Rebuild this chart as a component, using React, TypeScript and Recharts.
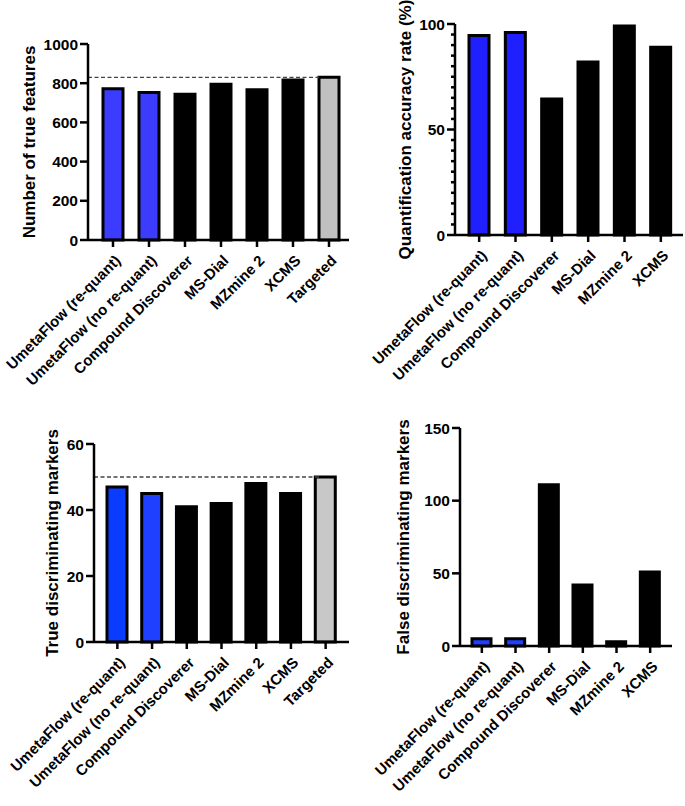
import { BarChart, Bar, XAxis, YAxis, Cell, ReferenceLine, Label } from "recharts";

const FONT = '"Liberation Sans", Arial, sans-serif';

const toolsWithTarget = [
  "UmetaFlow (re-quant)",
  "UmetaFlow (no re-quant)",
  "Compound Discoverer",
  "MS-Dial",
  "MZmine 2",
  "XCMS",
  "Targeted",
];
const toolsNoTarget = [
  "UmetaFlow (re-quant)",
  "UmetaFlow (no re-quant)",
  "Compound Discoverer",
  "MS-Dial",
  "MZmine 2",
  "XCMS",
];

const trueFeatures = [772, 753, 744, 795, 766, 816, 830];
const quantAccuracy = [94.5, 96, 64.5, 82, 99, 89];
const trueMarkers = [47, 45, 41, 42, 48, 45, 50];
const falseMarkers = [5, 5, 111, 42, 3, 51];

const featuresTicks = [0, 200, 400, 600, 800, 1000];
const accuracyTicks = [0, 5, 10, 15, 20, 25, 30, 35, 40, 45, 50, 55, 60, 65, 70, 75, 80, 85, 90, 95, 100];
const trueMarkerTicks = [0, 20, 40, 60];
const falseMarkerTicks = [0, 50, 100, 150];

const featuresTarget = 830;
const markersTarget = 50;

// bar colours (style, kept apart from the values)
const fillsTop = ["#3c3cff", "#3c3cff", "#000", "#000", "#000", "#000", "#c0c0c0"];
const fillsAcc = ["#2020ff", "#2020ff", "#000", "#000", "#000", "#000"];
const fillsBottom = ["#0a3cff", "#2040ff", "#000", "#000", "#000", "#000", "#c8c8c8"];
const fillsFalse = ["#2040ff", "#2040ff", "#000", "#000", "#000", "#000"];

function XTick({ x, y, payload }: any) {
  const ax = x + 1;
  const ay = y + 5;
  return (
    <text
      x={ax}
      y={ay}
      transform={`rotate(-45 ${ax} ${ay})`}
      textAnchor="end"
      dy="0.71em"
      fontSize={15}
      fontWeight={700}
      fontFamily={FONT}
      fill="#000"
    >
      {payload.value}
    </text>
  );
}

function YTick({ x, y, payload, major }: any) {
  const axisX = x + 10; // tickSize 7 + tickMargin 3
  const isMajor = payload.value % major === 0;
  return (
    <g>
      <line
        x1={axisX}
        x2={axisX - (isMajor ? 8 : 4)}
        y1={y}
        y2={y}
        stroke="#000"
        strokeWidth={2.5}
      />
      {isMajor && (
        <text
          x={x}
          y={y}
          dy="0.36em"
          textAnchor="end"
          fontSize={15.5}
          fontWeight={700}
          fontFamily={FONT}
          fill="#000"
        >
          {payload.value}
        </text>
      )}
    </g>
  );
}

interface PanelProps {
  left: number;
  top: number;
  width: number;
  height: number;
  margin: { top: number; right: number; bottom: number; left: number };
  yWidth: number;
  xHeight: number;
  pad: { left: number; right: number };
  cats: string[];
  values: number[];
  fills: string[];
  ticks: number[];
  major: number;
  title: string;
  titleDx: number;
  barSize: number;
  target?: number;
  dashTrim?: number;
}

function Panel(p: PanelProps) {
  const data = p.cats.map((name, i) => ({ name, value: p.values[i] }));
  const domainMax = p.ticks[p.ticks.length - 1];
  return (
    <div style={{ position: "absolute", left: p.left, top: p.top }}>
      <BarChart width={p.width} height={p.height} data={data} margin={p.margin}>
        <XAxis
          dataKey="name"
          interval={0}
          height={p.xHeight}
          padding={p.pad}
          axisLine={{ stroke: "#000", strokeWidth: 2.5 }}
          tickLine={{ stroke: "#000", strokeWidth: 2.5 }}
          tickSize={7}
          tick={<XTick />}
        />
        <YAxis
          width={p.yWidth}
          domain={[0, domainMax]}
          ticks={p.ticks}
          interval={0}
          axisLine={{ stroke: "#000", strokeWidth: 2.5 }}
          tickLine={false}
          tickSize={7}
          tickMargin={3}
          tick={<YTick major={p.major} />}
        >
          <Label
            value={p.title}
            angle={-90}
            position="center"
            dx={p.titleDx}
            style={{ fontSize: 17, fontWeight: 700, fontFamily: FONT, fill: "#000" }}
          />
        </YAxis>
        {p.target !== undefined && (
          <ReferenceLine
            y={p.target}
            shape={(s: any) => (
              <line
                x1={s.x1}
                y1={s.y1}
                x2={s.x2 - (p.dashTrim ?? 0)}
                y2={s.y2}
                stroke="#444"
                strokeWidth={1.3}
                strokeDasharray="4 2.5"
              />
            )}
          />
        )}
        <Bar
          dataKey="value"
          barSize={p.barSize}
          stroke="#000"
          strokeWidth={3}
          isAnimationActive={false}
        >
          {data.map((d, i) => (
            <Cell key={d.name} fill={p.fills[i]} />
          ))}
        </Bar>
      </BarChart>
    </div>
  );
}

export default function App() {
  return (
    <div
      style={{
        position: "absolute",
        left: 0,
        top: 0,
        width: 685,
        height: 806,
        background: "#fff",
        overflow: "hidden",
      }}
    >
      <Panel
        left={0}
        top={0}
        width={350}
        height={400}
        margin={{ top: 44, right: 1, bottom: 0, left: 0 }}
        yWidth={88}
        xHeight={160}
        pad={{ left: 7, right: 2 }}
        cats={toolsWithTarget}
        values={trueFeatures}
        fills={fillsTop}
        ticks={featuresTicks}
        major={200}
        title="Number of true features"
        titleDx={-15}
        barSize={20}
        target={featuresTarget}
        dashTrim={30}
      />
      <Panel
        left={350}
        top={0}
        width={335}
        height={400}
        margin={{ top: 24, right: 2, bottom: 0, left: 0 }}
        yWidth={105}
        xHeight={165}
        pad={{ left: 6, right: 4 }}
        cats={toolsNoTarget}
        values={quantAccuracy}
        fills={fillsAcc}
        ticks={accuracyTicks}
        major={50}
        title="Quantification accuracy rate (%)"
        titleDx={2.5}
        barSize={20}
      />
      <Panel
        left={0}
        top={400}
        width={350}
        height={406}
        margin={{ top: 44, right: 1, bottom: 0, left: 0 }}
        yWidth={94}
        xHeight={164}
        pad={{ left: 6, right: 6 }}
        cats={toolsWithTarget}
        values={trueMarkers}
        fills={fillsBottom}
        ticks={trueMarkerTicks}
        major={20}
        title="True discriminating markers"
        titleDx={5}
        barSize={20}
        target={markersTarget}
        dashTrim={30}
      />
      <Panel
        left={350}
        top={400}
        width={335}
        height={406}
        margin={{ top: 28, right: 13, bottom: 0, left: 0 }}
        yWidth={110}
        xHeight={160}
        pad={{ left: 5, right: 5 }}
        cats={toolsNoTarget}
        values={falseMarkers}
        fills={fillsFalse}
        ticks={falseMarkerTicks}
        major={50}
        title="False discriminating markers"
        titleDx={-2}
        barSize={19}
      />
    </div>
  );
}
